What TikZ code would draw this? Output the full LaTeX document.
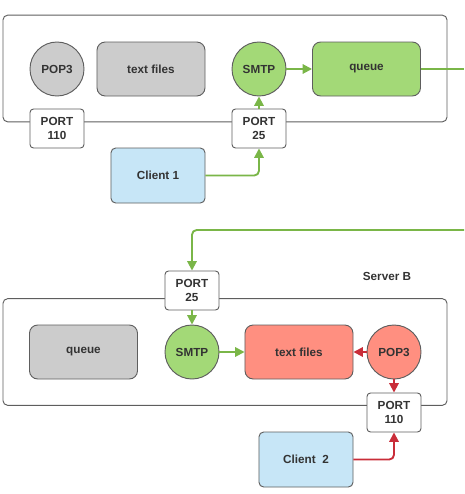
\documentclass[tikz,border=0pt]{standalone}
\usepackage{fontspec}
\setmainfont{Liberation Sans}
\usepackage{xcolor}
\usepackage{tikz}
\usetikzlibrary{arrows.meta,positioning}
\definecolor{mborder}{HTML}{5E5E5E}
\definecolor{mtext}{HTML}{333333}
\definecolor{mgray}{HTML}{CCCCCC}
\definecolor{mgreen}{HTML}{A3D977}
\definecolor{mred}{HTML}{FF8F80}
\definecolor{mblue}{HTML}{C7E6F7}
\definecolor{lgreen}{HTML}{7AB648}
\definecolor{lred}{HTML}{C92D39}

\begin{document}
\begin{tikzpicture}[x=0.03cm, y=-0.03cm,
    server/.style={rectangle, draw=mborder, line width=0.8pt, rounded corners=4pt, minimum width=13.32cm, minimum height=3.2cm},
    store/.style={rectangle, draw=mborder, line width=0.8pt, rounded corners=7pt, minimum width=3.24cm, minimum height=1.62cm, font=\fontsize{10}{12}\selectfont\bfseries, text=mtext},
    proc/.style={circle, draw=mborder, line width=0.8pt, minimum size=1.62cm, inner sep=0pt, font=\fontsize{10}{12}\selectfont\bfseries, text=mtext},
    port/.style={rectangle, draw=mborder, fill=white, line width=0.8pt, rounded corners=3pt, minimum width=1.62cm, minimum height=1.17cm, align=center, font=\fontsize{10}{12.5}\selectfont\bfseries, text=mtext},
    client/.style={rectangle, draw=mborder, fill=mblue, line width=0.8pt, rounded corners=4pt, minimum width=2.82cm, minimum height=1.65cm, font=\fontsize{10}{12}\selectfont\bfseries, text=mtext},
    garr/.style={-{Stealth[length=8pt, width=8pt, inset=0pt]}, line width=1.6pt, lgreen},
    rarr/.style={-{Stealth[length=8pt, width=8pt, inset=0pt]}, line width=1.6pt, lred}
]
    \useasboundingbox (0,0) rectangle (464,494);

    % Server A
    \node[server] (srvA) at (225,68.5) {};
    \node[proc, fill=mgray] (popA) at (57,69) {POP3};
    \node[store, fill=mgray] (filesA) at (151,69) {text files};
    \node[proc, fill=mgreen] (smtpA) at (259,69) {SMTP};
    \node[store, fill=mgreen] (queueA) at (366.5,69) {queue};
    \node[port] (p110A) at (57,128.5) {PORT\\110};
    \node[port] (p25A) at (259,128.5) {PORT\\25};
    \node[client] (client1) at (158,175.5) {Client 1};

    % Server B
    \node[font=\fontsize{10}{12}\selectfont\bfseries, text=mtext] (labelB) at (387,276) {Server B};
    \node[server] (srvB) at (225,352) {};
    \node[store, fill=mgray] (queueB) at (83.5,352) {queue};
    \node[proc, fill=mgreen] (smtpB) at (192,352) {SMTP};
    \node[store, fill=mred] (filesB) at (299,352) {text files};
    \node[proc, fill=mred] (popB) at (394,352) {POP3};
    \node[port] (p25B) at (192,290.5) {PORT\\25};
    \node[port] (p110B) at (394,412.5) {PORT\\110};
    \node[client] (client2) at (306,459.5) {Client~~2};

    % Off-page ends of the relay line
    \coordinate (outA) at (464,69);
    \coordinate (inB) at (464,230);

    % Arrows
    \draw[garr] (smtpA) -- (queueA);
    \draw[garr] (p25A) -- (smtpA);
    \draw[garr, rounded corners=4pt] (client1.east) -| (p25A.south);
    \draw[lgreen, line width=1.6pt] (queueA) -- (outA);
    \draw[garr, rounded corners=4pt] (inB) -| (p25B.north);
    \draw[garr] (p25B) -- (smtpB);
    \draw[garr] (smtpB) -- (filesB);
    \draw[rarr] (popB) -- (filesB);
    \draw[rarr] (popB) -- (p110B);
    \draw[rarr, rounded corners=4pt] (client2.east) -| (p110B.south);
\end{tikzpicture}
\end{document}
